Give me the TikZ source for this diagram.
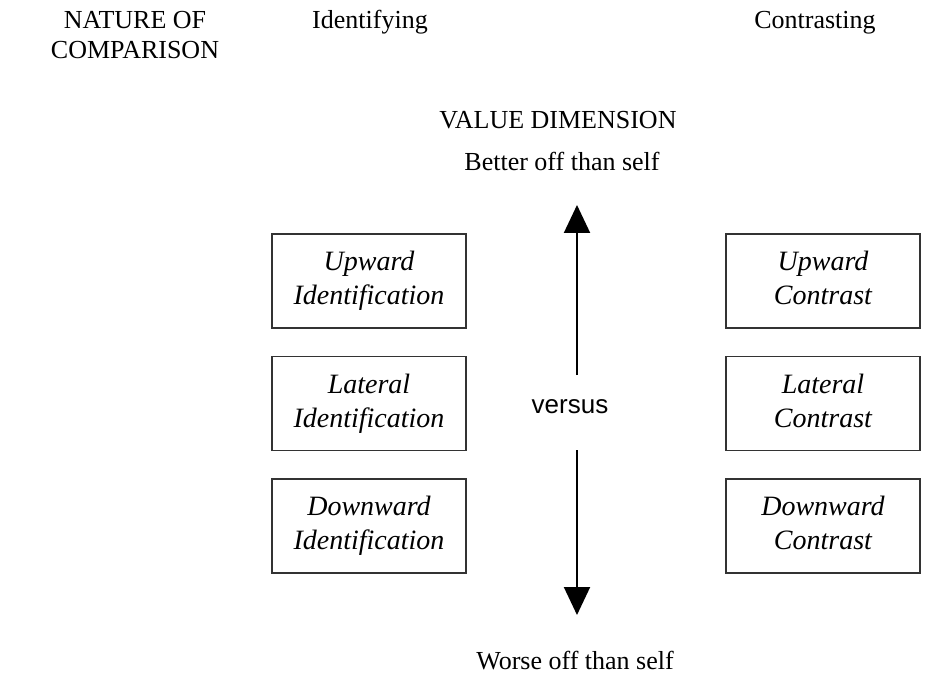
\documentclass[tikz,border=0pt]{standalone}
\usepackage{fontspec}
\setmainfont{Liberation Serif}
\setsansfont{Liberation Sans}
\usetikzlibrary{arrows.meta,positioning}

\begin{document}
\begin{tikzpicture}[x=1pt,y=-1pt,>={Triangle[width=26pt,length=28pt]},
  cbox/.style={draw=black!80,line width=1.5pt,minimum width=194pt,minimum height=94pt,align=center,inner sep=0pt,font=\fontsize{28}{34}\selectfont\itshape},
  head/.style={font=\fontsize{26}{30}\selectfont,align=center,inner sep=0pt}]
  \useasboundingbox (0,0) rectangle (942,684);

  % column headings
  \node[head] (nature) at (135,35) {NATURE OF\\COMPARISON};
  \node[head,anchor=base] (ident) at (370,29) {Identifying};
  \node[head,anchor=base] (contr) at (815,29) {Contrasting};

  \node[head,anchor=base] (valdim) at (558,129) {VALUE DIMENSION};
  \node[head,anchor=base] (better) at (562,171) {Better off than self};
  \node[head,anchor=base] (worse) at (575,669) {Worse off than self};

  % identifying column
  \node[cbox] (upid) at (369,281) {\strut Upward\\\strut Identification};
  \node[cbox,below=27pt of upid] (latid) {\strut Lateral\\\strut Identification};
  \node[cbox,below=27pt of latid] (downid) {\strut Downward\\\strut Identification};

  % contrasting column
  \node[cbox] (upcon) at (823,281) {\strut Upward\\\strut Contrast};
  \node[cbox,below=27pt of upcon] (latcon) {\strut Lateral\\\strut Contrast};
  \node[cbox,below=27pt of latcon] (downcon) {\strut Downward\\\strut Contrast};

  \node[font=\sffamily\fontsize{26}{30}\selectfont] (versus) at (570,407) {versus};

  \coordinate (uptop) at (577,205);
  \coordinate (upbot) at (577,375);
  \coordinate (downtop) at (577,450);
  \coordinate (downbot) at (577,615);
  \draw[->,line width=2pt] (upbot) -- (uptop);
  \draw[->,line width=2pt] (downtop) -- (downbot);

\end{tikzpicture}
\end{document}
